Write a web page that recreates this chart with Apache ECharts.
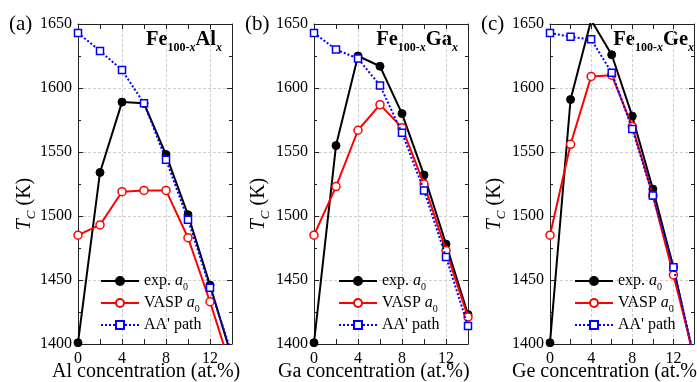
<!DOCTYPE html>
<html>
<head>
<meta charset="utf-8">
<script src="https://cdn.jsdelivr.net/npm/echarts@6/dist/echarts.min.js"></script>
<style>
  html, body { margin: 0; padding: 0; background: #fff; }
  #chart { width: 697px; height: 382px; }
</style>
</head>
<body>
<div id="chart"></div>
<script>
// Curie temperature T_C (K) versus solute concentration (at.%) in Fe-based alloys
const concentration = [0, 2, 4, 6, 8, 10, 12, 14];
const xTickLabels = [0, 4, 8, 12];
const yTickLabels = [1400, 1450, 1500, 1550, 1600, 1650];
const seriesNames = ['exp. a0', 'VASP a0', "AA' path"];

// Fe100-xAlx
const expAl  = [1401, 1534, 1589, 1588, 1548, 1501, 1446, 1389];
const vaspAl = [1485, 1493, 1519, 1520, 1520, 1483, 1433, 1379];
const pathAl = [1643, 1629, 1614, 1588, 1544, 1497, 1444, 1392];

// Fe100-xGax
const expGa  = [1401, 1555, 1625, 1617, 1580, 1532, 1478, 1423];
const vaspGa = [1485, 1523, 1567, 1587, 1569, 1525, 1473, 1421];
const pathGa = [1643, 1630, 1623, 1602, 1565, 1520, 1468, 1414];

// Fe100-xGex
const expGe  = [1401, 1591, 1653, 1626, 1578, 1521, 1460, 1388];
const vaspGe = [1485, 1556, 1609, 1610, 1570, 1516, 1454, 1390];
const pathGe = [1643, 1640, 1638, 1612, 1568, 1516, 1460, 1390];

const FONT = 'Liberation Serif, Times New Roman, serif';
const AXIS_COLOR = '#222';
const GRID_TOP = 24, GRID_W = 154, GRID_H = 320;

const panels = [
  { left: 78,  tag: '(a)', tagX: 9,   elem: 'Al', titleX: 52,  yTitleX: 25,  legendX: 95,
    data: [expAl, vaspAl, pathAl] },
  { left: 314, tag: '(b)', tagX: 245, elem: 'Ga', titleX: 278, yTitleX: 259, legendX: 333,
    data: [expGa, vaspGa, pathGa] },
  { left: 550, tag: '(c)', tagX: 481, elem: 'Ge', titleX: 512, yTitleX: 495, legendX: 569,
    data: [expGe, vaspGe, pathGe] }
];

const seriesStyles = [
  { color: '#000000', symbol: 'circle', symbolSize: 8,
    lineStyle: { color: '#000000', width: 2 },
    itemStyle: { color: '#000000', borderColor: '#000000', borderWidth: 1 } },
  { color: '#ff0000', symbol: 'circle', symbolSize: 8,
    lineStyle: { color: '#ff0000', width: 2 },
    itemStyle: { color: '#ffffff', borderColor: '#ff0000', borderWidth: 1.5 } },
  { color: '#0000ff', symbol: 'rect', symbolSize: 7,
    lineStyle: { color: '#0000ff', width: 2, type: [2, 2] },
    itemStyle: { color: '#ffffff', borderColor: '#0000ff', borderWidth: 1.5 } }
];

const legendRich = {
  n:  { fontFamily: FONT, fontSize: 16, color: '#000', lineHeight: 22 },
  i:  { fontFamily: FONT, fontSize: 16, fontStyle: 'italic', color: '#000', lineHeight: 22 },
  s:  { fontFamily: FONT, fontSize: 10, color: '#000', lineHeight: 6, verticalAlign: 'bottom' }
};
const legendText = {
  'exp. a0': '{n|exp. }{i|a}{s|0}',
  'VASP a0': '{n|VASP }{i|a}{s|0}',
  "AA' path": "{n|AA' path}"
};

const lineCommon = { show: true, onZero: false, lineStyle: { color: AXIS_COLOR, width: 1 } };
const labelFont = { fontFamily: FONT, fontSize: 16, color: '#000' };
const gridLine = { show: true, showMinLine: false, showMaxLine: false,
  lineStyle: { color: '#cfcfcf', width: 1, type: [3, 2] } };

const grid = [], xAxis = [], yAxis = [], series = [], legend = [], graphic = [];

panels.forEach((p, k) => {
  grid.push({ left: p.left, top: GRID_TOP, width: GRID_W, height: GRID_H });

  // bottom axis with labels, top mirror axis, and a bare axis carrying the vertical grid lines
  xAxis.push({
    gridIndex: k, type: 'value', position: 'bottom', min: 0, max: 14, interval: 2,
    axisLine: lineCommon,
    axisTick: { show: true, inside: true, length: 5, lineStyle: { color: AXIS_COLOR } },
    axisLabel: Object.assign({ margin: 7, formatter: v => xTickLabels.includes(v) ? String(v) : '' }, labelFont),
    splitLine: { show: false }
  });
  xAxis.push({
    gridIndex: k, type: 'value', position: 'top', min: 0, max: 14, interval: 2,
    axisLine: lineCommon,
    axisTick: { show: true, inside: true, length: 5, lineStyle: { color: AXIS_COLOR } },
    axisLabel: { show: false }, splitLine: { show: false }
  });
  xAxis.push({
    gridIndex: k, type: 'value', position: 'bottom', min: 0, max: 14, interval: 4,
    axisLine: { show: false }, axisTick: { show: false }, axisLabel: { show: false },
    splitLine: gridLine
  });

  yAxis.push({
    gridIndex: k, type: 'value', position: 'left', min: 1400, max: 1650, interval: 50,
    axisLine: lineCommon,
    axisTick: { show: true, inside: true, length: 5, lineStyle: { color: AXIS_COLOR } },
    minorTick: { show: true, splitNumber: 2, length: 3, lineStyle: { color: AXIS_COLOR } },
    axisLabel: Object.assign({ margin: 6, formatter: v => yTickLabels.includes(v) ? String(v) : '' }, labelFont),
    splitLine: gridLine
  });
  yAxis.push({
    gridIndex: k, type: 'value', position: 'right', min: 1400, max: 1650, interval: 50,
    axisLine: lineCommon,
    axisTick: { show: true, inside: true, length: 5, lineStyle: { color: AXIS_COLOR } },
    minorTick: { show: true, splitNumber: 2, length: 3, lineStyle: { color: AXIS_COLOR } },
    axisLabel: { show: false }, splitLine: { show: false }
  });

  p.data.forEach((vals, j) => {
    const st = seriesStyles[j];
    series.push({
      name: seriesNames[j], type: 'line',
      xAxisIndex: 3 * k, yAxisIndex: 2 * k,
      data: concentration.map((c, m) => [c, vals[m]]),
      color: st.color, symbol: st.symbol, symbolSize: st.symbolSize,
      showAllSymbol: true, clip: true,
      lineStyle: st.lineStyle, itemStyle: st.itemStyle,
      z: 2 + j
    });
  });

  legend.push({
    orient: 'vertical', left: p.legendX, top: 268,
    itemWidth: 38, itemHeight: 10, itemGap: 3,
    selectedMode: false, data: seriesNames,
    formatter: name => legendText[name],
    textStyle: { fontFamily: FONT, fontSize: 16, color: '#000', rich: legendRich }
  });

  // panel tag
  graphic.push({
    type: 'text', x: p.tagX, y: 24,
    style: { text: p.tag, fontFamily: FONT, fontSize: 21, fill: '#000', align: 'left', verticalAlign: 'middle' }
  });
  // alloy formula
  graphic.push({
    type: 'text', x: p.left + GRID_W - 10, y: 25,
    style: {
      text: '{b|Fe}{s|100-}{si|x}{b|' + p.elem + '}{si|x}',
      align: 'right', verticalAlign: 'top',
      rich: {
        b:  { fontFamily: FONT, fontSize: 20.5, fontWeight: 'bold', fill: '#000', lineHeight: 29 },
        s:  { fontFamily: FONT, fontSize: 12, fontWeight: 'bold', fill: '#000', lineHeight: 8, verticalAlign: 'bottom' },
        si: { fontFamily: FONT, fontSize: 12, fontWeight: 'bold', fontStyle: 'italic', fill: '#000', lineHeight: 8, verticalAlign: 'bottom' }
      }
    }
  });
  // y-axis title
  graphic.push({
    type: 'text', x: p.yTitleX, y: 204, rotation: Math.PI / 2,
    style: {
      text: '{i|T}{si|C}{n| (K)}',
      align: 'center', verticalAlign: 'middle',
      rich: {
        i:  { fontFamily: FONT, fontSize: 20, fontStyle: 'italic', fill: '#000', lineHeight: 26 },
        si: { fontFamily: FONT, fontSize: 13, fontStyle: 'italic', fill: '#000', lineHeight: 8, verticalAlign: 'bottom' },
        n:  { fontFamily: FONT, fontSize: 20, fill: '#000', lineHeight: 26 }
      }
    }
  });
  // x-axis title
  graphic.push({
    type: 'text', x: p.titleX, y: 372,
    style: { text: p.elem + ' concentration (at.%)', fontFamily: FONT, fontSize: 20, fill: '#000',
      align: 'left', verticalAlign: 'middle' }
  });
});

const chart = echarts.init(document.getElementById('chart'), null, { renderer: 'canvas' });
chart.setOption({
  animation: false,
  backgroundColor: '#ffffff',
  grid, xAxis, yAxis, series, legend, graphic
});
</script>
</body>
</html>
